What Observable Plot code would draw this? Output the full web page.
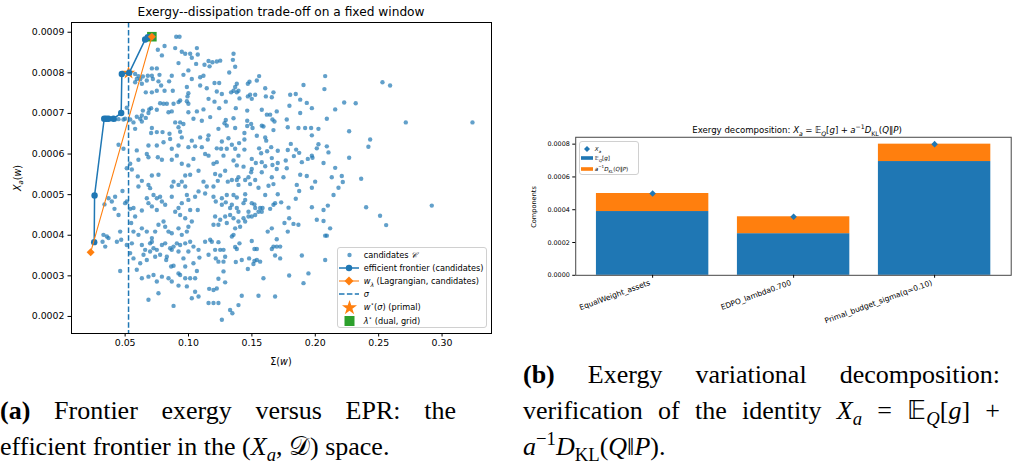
<!DOCTYPE html>
<html><head><meta charset="utf-8">
<script src="https://cdn.jsdelivr.net/npm/d3@7"></script>
<script src="https://cdn.jsdelivr.net/npm/@observablehq/plot@0.6"></script>
<style>
html,body{margin:0;padding:0;background:#fff}
body{width:1013px;height:472px;overflow:hidden;position:relative;font-family:"DejaVu Sans",sans-serif;color:#000}
.abs{position:absolute}
.c{transform:translate(-50%,-50%);white-space:nowrap}
.mi{font-style:italic}
sub,sup{font-size:72%;line-height:0}
.sp{display:inline-block;width:0.28em}
.leg{position:absolute;background:rgba(255,255,255,0.85);border:1px solid #d0d0d0;border-radius:3px;box-sizing:border-box}
.row{position:absolute;left:0;white-space:nowrap}
.row > svg{position:absolute;left:0;top:0}
.row > span.t{position:absolute;white-space:nowrap}
.cap{position:absolute;font-family:"Liberation Serif","Times New Roman",serif;font-size:26px;line-height:36px;height:36px;white-space:nowrap}
.just{text-align:justify;text-align-last:justify;white-space:normal}
.cap .mi{font-style:italic}
</style></head>
<body>
<div id="left" class="abs" style="left:0;top:0"></div>
<div id="right" class="abs" style="left:520px;top:100px"></div>
<script>
// ---------- data: left panel (Σ(w), X_a(w)) ----------
const candidates = [
[0.0811,8.66e-4],[0.0758,8.57e-4],[0.0903,8.89e-4],[0.0929,8.89e-4],[0.0895,8.61e-4],[0.0947,8.52e-4],[0.0974,8.47e-4],[0.1013,8.47e-4],[0.1066,8.61e-4],[0.1073,8.45e-4],[0.1026,8.37e-4],[0.0921,8.24e-4],[0.1060,8.22e-4],[0.1126,8.20e-4],[0.1158,8.29e-4],[0.1166,8.16e-4],[0.0790,8.43e-4],[0.0711,8.11e-4],[0.0750,8.11e-4],[0.0771,7.95e-4],[0.0711,7.93e-4],[0.0679,7.93e-4],[0.0640,7.91e-4],[0.0605,7.92e-4],[0.0579,7.77e-4],[0.0592,7.85e-4],[0.0632,7.73e-4],[0.0671,7.81e-4],[0.0719,7.85e-4],[0.0763,7.79e-4],[0.0784,7.69e-4],[0.0847,7.79e-4],[0.0868,7.93e-4],[0.0960,7.95e-4],[0.0999,8.06e-4],[0.1092,7.89e-4],[0.1118,7.93e-4],[0.1026,7.85e-4],[0.0987,7.65e-4],[0.1092,7.69e-4],[0.1144,7.62e-4],[0.0750,7.56e-4],[0.0811,7.56e-4],[0.0876,7.56e-4],[0.0711,7.52e-4],[0.0663,7.52e-4],[0.0999,7.50e-4],[0.0992,7.42e-4],[0.0934,7.32e-4],[0.0987,7.30e-4],[0.0999,7.24e-4],[0.1158,7.36e-4],[0.0921,7.28e-4],[0.0882,7.24e-4],[0.0842,7.03e-4],[0.0803,7.24e-4],[0.0776,7.25e-4],[0.0829,7.24e-4],[0.0750,7.09e-4],[0.0705,7.13e-4],[0.0690,7.10e-4],[0.0684,7.01e-4],[0.0640,7.07e-4],[0.0632,6.95e-4],[0.0663,6.89e-4],[0.0619,6.87e-4],[0.0592,6.92e-4],[0.0632,6.80e-4],[0.0566,6.78e-4],[0.0513,7.14e-4],[0.0500,6.87e-4],[0.0540,6.85e-4],[0.0868,7.05e-4],[0.1118,7.10e-4],[0.1066,7.05e-4],[0.0999,7.03e-4],[0.0579,6.62e-4],[0.0711,6.64e-4],[0.0705,6.52e-4],[0.0750,6.54e-4],[0.0795,6.54e-4],[0.0850,6.50e-4],[0.0895,6.78e-4],[0.0934,6.78e-4],[0.0960,6.74e-4],[0.0921,6.66e-4],[0.0934,6.55e-4],[0.0947,6.41e-4],[0.1039,6.87e-4],[0.1105,6.82e-4],[0.1171,6.91e-4],[0.1026,6.33e-4],[0.1092,6.41e-4],[0.1158,6.46e-4],[0.1152,6.36e-4],[0.0855,6.37e-4],[0.0750,6.21e-4],[0.0803,6.29e-4],[0.0868,6.13e-4],[0.0921,6.21e-4],[0.0999,6.17e-4],[0.1052,6.19e-4],[0.1105,6.17e-4],[0.0684,6.21e-4],[0.0592,6.09e-4],[0.0671,6.00e-4],[0.0487,6.13e-4],[0.0448,6.23e-4],[0.0540,5.76e-4],[0.0605,5.86e-4],[0.0684,5.92e-4],[0.0758,5.92e-4],[0.0790,5.86e-4],[0.0868,5.86e-4],[0.0908,5.96e-4],[0.0947,5.76e-4],[0.0999,5.72e-4],[0.1039,5.88e-4],[0.1131,6.00e-4],[0.1158,5.96e-4],[0.1079,5.59e-4],[0.1013,5.49e-4],[0.0974,5.47e-4],[0.0763,5.49e-4],[0.0711,5.47e-4],[0.0600,5.45e-4],[0.0553,5.62e-4],[0.0513,5.65e-4],[0.0421,6.85e-4],[0.0448,6.86e-4],[0.0487,6.85e-4],[0.0579,7.97e-4],[0.0619,7.84e-4],
[0.1355,8.47e-4],[0.1350,8.32e-4],[0.1368,8.15e-4],[0.1321,8.01e-4],[0.1250,8.30e-4],[0.1223,8.28e-4],[0.1189,8.26e-4],[0.1557,7.92e-4],[0.1539,7.81e-4],[0.1481,7.78e-4],[0.1468,7.73e-4],[0.1381,7.73e-4],[0.1368,7.65e-4],[0.1394,7.56e-4],[0.1355,7.56e-4],[0.1336,7.52e-4],[0.1381,7.52e-4],[0.1402,7.37e-4],[0.1242,7.75e-4],[0.1205,7.75e-4],[0.1223,7.54e-4],[0.1263,7.48e-4],[0.1486,7.46e-4],[0.1468,7.42e-4],[0.1499,7.36e-4],[0.1526,7.46e-4],[0.1605,7.62e-4],[0.1610,7.42e-4],[0.1670,7.52e-4],[0.1657,7.40e-4],[0.1802,7.46e-4],[0.1846,7.48e-4],[0.1881,7.34e-4],[0.1907,7.70e-4],[0.1933,7.26e-4],[0.1973,7.13e-4],[0.2078,7.92e-4],[0.2072,7.60e-4],[0.2228,7.27e-4],[0.2157,7.10e-4],[0.2091,6.87e-4],[0.1205,7.29e-4],[0.1294,7.29e-4],[0.1242,7.13e-4],[0.1373,7.13e-4],[0.1463,7.07e-4],[0.1578,7.09e-4],[0.1618,6.97e-4],[0.1644,6.97e-4],[0.1696,7.05e-4],[0.1662,6.85e-4],[0.1678,6.80e-4],[0.1670,6.59e-4],[0.1578,6.70e-4],[0.1591,6.68e-4],[0.1494,6.74e-4],[0.1505,6.64e-4],[0.1463,6.82e-4],[0.1463,6.69e-4],[0.1355,6.88e-4],[0.1294,6.84e-4],[0.1284,6.76e-4],[0.1302,6.70e-4],[0.1368,6.64e-4],[0.1236,6.62e-4],[0.1796,7.19e-4],[0.1881,7.01e-4],[0.1775,6.85e-4],[0.1783,6.66e-4],[0.1867,6.64e-4],[0.1920,6.64e-4],[0.1967,6.64e-4],[0.1973,6.46e-4],[0.2025,6.62e-4],[0.2267,6.56e-4],[0.1539,6.45e-4],[0.1605,6.41e-4],[0.1613,6.33e-4],[0.1441,6.52e-4],[0.1441,6.36e-4],[0.1399,6.27e-4],[0.1315,6.39e-4],[0.1263,6.31e-4],[0.1257,6.13e-4],[0.1302,6.13e-4],[0.1223,6.14e-4],[0.1342,6.23e-4],[0.1368,6.13e-4],[0.1441,6.11e-4],[0.1557,6.14e-4],[0.1652,6.17e-4],[0.1620,6.07e-4],[0.1573,6.02e-4],[0.1704,6.08e-4],[0.1783,6.10e-4],[0.1807,6.25e-4],[0.1849,6.11e-4],[0.1873,6.03e-4],[0.1831,5.95e-4],[0.1767,5.84e-4],[0.1657,5.90e-4],[0.1578,5.80e-4],[0.1499,5.88e-4],[0.1531,5.78e-4],[0.1394,5.96e-4],[0.1355,5.84e-4],[0.1381,5.72e-4],[0.1434,5.69e-4],[0.1276,5.96e-4],[0.1223,5.80e-4],[0.1197,5.76e-4],[0.1289,5.59e-4],[0.1605,5.70e-4],[0.1499,5.63e-4],[0.1494,5.55e-4],[0.1662,5.73e-4],[0.1704,5.78e-4],[0.1696,5.63e-4],[0.1775,5.65e-4],[0.1894,5.80e-4],[0.1941,5.88e-4],[0.1973,5.96e-4],[0.1978,5.91e-4],[0.2025,6.24e-4],[0.2012,6.14e-4],[0.2091,6.19e-4],[0.2104,6.04e-4],[0.2065,5.78e-4],[0.2157,5.66e-4],[0.2267,5.91e-4],[0.1210,5.51e-4],[0.1250,5.47e-4],[0.1394,5.43e-4],[0.1473,5.43e-4],[0.1578,5.55e-4],[0.1657,5.43e-4],[0.1749,5.43e-4],[0.1881,5.49e-4],[0.1933,5.46e-4],[0.2130,5.43e-4],[0.2209,5.46e-4],
[0.0337,4.76e-4],[0.0369,4.91e-4],[0.0395,4.83e-4],[0.0421,4.95e-4],[0.0479,5.09e-4],[0.0416,4.65e-4],[0.0448,4.50e-4],[0.0500,4.79e-4],[0.0513,4.83e-4],[0.0540,4.65e-4],[0.0566,4.67e-4],[0.0632,4.61e-4],[0.0605,5.20e-4],[0.0632,5.34e-4],[0.0684,5.24e-4],[0.0697,5.16e-4],[0.0724,4.99e-4],[0.0671,4.91e-4],[0.0684,4.79e-4],[0.0711,4.71e-4],[0.0750,4.62e-4],[0.0750,4.91e-4],[0.0776,4.95e-4],[0.0790,4.83e-4],[0.0816,4.75e-4],[0.0868,4.95e-4],[0.0868,5.20e-4],[0.0882,5.32e-4],[0.0921,5.24e-4],[0.0947,5.32e-4],[0.0974,5.20e-4],[0.0987,4.99e-4],[0.0999,4.87e-4],[0.0947,4.79e-4],[0.0921,4.67e-4],[0.0895,4.58e-4],[0.0934,4.50e-4],[0.0974,4.42e-4],[0.1013,4.62e-4],[0.1052,4.95e-4],[0.1079,5.08e-4],[0.1131,5.03e-4],[0.1144,5.20e-4],[0.1118,5.32e-4],[0.1073,4.62e-4],[0.1026,4.34e-4],[0.0999,4.21e-4],[0.0987,4.09e-4],[0.0947,4.01e-4],[0.0921,4.17e-4],[0.0868,4.05e-4],[0.0842,4.09e-4],[0.0816,4.21e-4],[0.0803,4.34e-4],[0.0763,4.26e-4],[0.0737,4.09e-4],[0.0711,3.93e-4],[0.0671,4.09e-4],[0.0632,4.17e-4],[0.0605,4.01e-4],[0.0566,4.09e-4],[0.0548,4.30e-4],[0.0579,4.46e-4],[0.0461,4.09e-4],[0.0469,3.89e-4],[0.0435,3.84e-4],[0.0369,3.93e-4],[0.0343,3.72e-4],[0.0329,4.01e-4],[0.0356,3.97e-4],[0.0322,3.84e-4],[0.0513,3.76e-4],[0.0553,3.80e-4],[0.0566,3.43e-4],[0.0540,3.56e-4],[0.0632,3.76e-4],[0.0658,3.64e-4],[0.0697,3.80e-4],[0.0711,3.84e-4],[0.0724,3.68e-4],[0.0750,3.64e-4],[0.0790,3.76e-4],[0.0816,3.80e-4],[0.0855,3.68e-4],[0.0882,3.72e-4],[0.0908,3.80e-4],[0.0934,3.76e-4],[0.0974,3.80e-4],[0.1013,3.84e-4],[0.1039,3.72e-4],[0.1079,3.64e-4],[0.1131,3.84e-4],[0.1158,3.52e-4],[0.1171,3.89e-4],[0.0999,3.60e-4],[0.0960,3.43e-4],[0.0921,3.60e-4],[0.0868,3.64e-4],[0.0829,3.47e-4],[0.0824,3.39e-4],[0.0776,3.52e-4],[0.0737,3.47e-4],[0.0697,3.60e-4],[0.0645,3.52e-4],[0.0671,3.39e-4],[0.0619,3.31e-4],[0.0592,3.15e-4],[0.0632,2.94e-4],[0.0684,2.98e-4],[0.0724,3.02e-4],[0.0750,2.86e-4],[0.0790,2.98e-4],[0.0842,2.94e-4],[0.0868,2.86e-4],[0.0863,3.23e-4],[0.0882,3.25e-4],[0.0921,3.06e-4],[0.0934,3.02e-4],[0.0974,3.23e-4],[0.0974,2.94e-4],[0.1013,2.94e-4],[0.1052,2.94e-4],[0.1066,3.12e-4],[0.1039,3.31e-4],[0.1086,3.45e-4],[0.1163,2.68e-4],[0.1158,2.33e-4],[0.1079,2.49e-4],[0.1026,2.45e-4],[0.1052,2.61e-4],[0.0987,2.74e-4],[0.0921,2.76e-4],[0.0763,2.57e-4],[0.0684,2.41e-4],[0.0882,2.26e-4],[0.0461,3.12e-4],
[0.1231,5.34e-4],[0.1310,5.32e-4],[0.1342,5.36e-4],[0.1381,5.36e-4],[0.1394,5.24e-4],[0.1447,5.36e-4],[0.1486,5.26e-4],[0.1526,5.36e-4],[0.1552,5.17e-4],[0.1631,5.22e-4],[0.1670,5.26e-4],[0.1704,5.01e-4],[0.1605,4.99e-4],[0.1447,5.01e-4],[0.1381,4.93e-4],[0.1355,4.99e-4],[0.1302,4.99e-4],[0.1263,4.91e-4],[0.1197,5.20e-4],[0.1197,4.95e-4],[0.1215,4.83e-4],[0.1263,4.75e-4],[0.1294,4.81e-4],[0.1328,4.67e-4],[0.1342,4.75e-4],[0.1381,4.67e-4],[0.1394,4.58e-4],[0.1434,4.79e-4],[0.1447,4.87e-4],[0.1499,4.79e-4],[0.1520,4.76e-4],[0.1526,4.67e-4],[0.1565,4.67e-4],[0.1584,4.67e-4],[0.1552,4.58e-4],[0.1499,4.46e-4],[0.1473,4.58e-4],[0.1434,4.42e-4],[0.1394,4.34e-4],[0.1355,4.42e-4],[0.1328,4.50e-4],[0.1289,4.46e-4],[0.1250,4.38e-4],[0.1210,4.46e-4],[0.1197,4.26e-4],[0.1236,4.26e-4],[0.1302,4.30e-4],[0.1368,4.17e-4],[0.1407,4.21e-4],[0.1447,4.34e-4],[0.1473,4.46e-4],[0.1526,4.50e-4],[0.1578,4.58e-4],[0.1644,4.65e-4],[0.1670,4.75e-4],[0.1683,4.79e-4],[0.1731,4.81e-4],[0.1789,4.68e-4],[0.1846,4.90e-4],[0.1873,5.09e-4],[0.1854,5.24e-4],[0.1973,5.17e-4],[0.1999,5.32e-4],[0.2144,4.99e-4],[0.2183,5.17e-4],[0.2217,5.31e-4],[0.1973,4.69e-4],[0.2065,4.62e-4],[0.2099,4.73e-4],[0.2012,4.38e-4],[0.2065,4.35e-4],[0.2117,4.17e-4],[0.2091,3.99e-4],[0.2078,3.99e-4],[0.1867,4.26e-4],[0.1828,4.28e-4],[0.1794,4.42e-4],[0.1757,4.30e-4],[0.1783,4.09e-4],[0.1657,4.17e-4],[0.1625,4.09e-4],[0.1696,3.90e-4],[0.1657,3.66e-4],[0.1670,3.72e-4],[0.1696,3.72e-4],[0.1723,3.72e-4],[0.1723,3.43e-4],[0.1683,3.50e-4],[0.1499,3.86e-4],[0.1520,3.66e-4],[0.1539,3.66e-4],[0.1402,3.80e-4],[0.1368,3.71e-4],[0.1381,3.66e-4],[0.1342,3.97e-4],[0.1355,4.01e-4],[0.1236,3.83e-4],[0.1250,3.64e-4],[0.1276,3.64e-4],[0.1289,3.47e-4],[0.1215,3.43e-4],[0.1236,3.35e-4],[0.1276,3.35e-4],[0.1210,3.64e-4],[0.1184,3.84e-4],[0.1373,3.34e-4],[0.1420,3.39e-4],[0.1478,3.43e-4],[0.1520,3.37e-4],[0.1512,3.29e-4],[0.1539,3.39e-4],[0.1565,3.35e-4],[0.1468,3.17e-4],[0.1276,3.11e-4],[0.1289,2.84e-4],[0.1236,2.93e-4],[0.1223,2.69e-4],[0.1197,2.65e-4],[0.1591,2.94e-4],[0.1794,3.01e-4],[0.1946,3.06e-4],[0.1907,2.82e-4],[0.1894,3.50e-4],[0.2078,3.39e-4],[0.1420,2.51e-4],[0.1552,2.51e-4],[0.1683,2.49e-4],[0.1197,2.33e-4],[0.1236,2.33e-4],[0.1394,2.28e-4],[0.1328,2.16e-4],[0.1346,2.08e-4],[0.1263,1.92e-4],
[0.2530,7.77e-4],[0.2590,7.69e-4],[0.2319,7.25e-4],[0.2714,6.78e-4],[0.3240,6.78e-4],[0.2433,6.36e-4],[0.2419,6.18e-4],[0.2362,5.39e-4],[0.2401,4.69e-4],[0.2511,4.48e-4],[0.2559,4.25e-4],[0.2919,4.73e-4]
];
const frontierSigma = [0.0256, 0.0259, 0.0335, 0.0351, 0.0369, 0.0408, 0.0469, 0.0474, 0.0532, 0.0658, 0.0679, 0.0711];
const frontierXa    = [3.83e-4, 4.98e-4, 6.87e-4, 6.87e-4, 6.87e-4, 6.87e-4, 7.01e-4, 7.97e-4, 8.00e-4, 8.82e-4, 8.88e-4, 8.89e-4];
const lagSigma = [0.0228, 0.0711];
const lagXa    = [3.58e-4, 8.89e-4];
const sigmaBudget = 0.0527;
const primal = {sigma: 0.0527, xa: 8.00e-4};
const dual   = {sigma: 0.0711, xa: 8.89e-4};
const leftXTicks = [0.05, 0.10, 0.15, 0.20, 0.25, 0.30];
const leftYTicks = [0.0002, 0.0003, 0.0004, 0.0005, 0.0006, 0.0007, 0.0008, 0.0009];

// ---------- data: right panel ----------
const strategies = ["EqualWeight_assets", "EDPO_lambda0.700", "Primal_budget_sigma(q=0.10)"];
const expectedG  = [3.89e-4, 2.54e-4, 6.94e-4];
const klTerm     = [1.10e-4, 1.03e-4, 1.06e-4];
const exergyXa   = [4.99e-4, 3.57e-4, 8.00e-4];
const rightYTicks = [0, 0.0002, 0.0004, 0.0006, 0.0008];

const BLUE = "#1f77b4", ORANGE = "#ff7f0e", GREEN = "#2ca02c";

// ---------- left plot ----------
const frontier = frontierSigma.map((s, i) => ({s, xa: frontierXa[i]}));
const lag = lagSigma.map((s, i) => ({s, xa: lagXa[i]}));
const left = Plot.plot({
  width: 500, height: 372,
  marginLeft: 71, marginRight: 9, marginTop: 22, marginBottom: 39,
  style: {fontFamily: "DejaVu Sans", fontSize: "9.4px", color: "#000", background: "transparent"},
  x: {domain: [0.0077, 0.339]},
  y: {domain: [0.000158, 0.000924]},
  marks: [
    Plot.dot(candidates, {x: d => d[0], y: d => d[1], r: 2.2, fill: BLUE, fillOpacity: 0.7}),
    Plot.dot([primal], {x: "sigma", y: "xa", symbol: "star", r: 4.2, fill: ORANGE}),
    Plot.dot([dual], {x: "sigma", y: "xa", symbol: "square", r: 5.4, fill: GREEN}),
    Plot.line(frontier, {x: "s", y: "xa", stroke: BLUE, strokeWidth: 1.5}),
    Plot.dot(frontier, {x: "s", y: "xa", r: 3.2, fill: BLUE}),
    Plot.line(lag, {x: "s", y: "xa", stroke: ORANGE, strokeWidth: 1.1}),
    Plot.dot(lag, {x: "s", y: "xa", symbol: "diamond2", r: 3.6, fill: ORANGE}),
    Plot.ruleX([sigmaBudget], {stroke: BLUE, strokeWidth: 1.5, strokeDasharray: "5.5,2.4"}),
    Plot.frame({stroke: "#000", strokeWidth: 1}),
    Plot.axisX({ticks: leftXTicks, tickFormat: d3.format(".2f"), tickSize: 3.5, tickPadding: 2.5, label: null}),
    Plot.axisY({ticks: leftYTicks, tickFormat: d3.format(".4f"), tickSize: 3.5, tickPadding: 3.5, label: null})
  ]
});
document.getElementById("left").appendChild(left);

// ---------- right plot ----------
const stacked = [];
strategies.forEach((s, i) => {
  stacked.push({strategy: s, part: "eg", value: expectedG[i]});
  stacked.push({strategy: s, part: "kl", value: klTerm[i]});
});
const xaRows = strategies.map((s, i) => ({strategy: s, xa: exergyXa[i]}));
const right = Plot.plot({
  width: 500, height: 240,
  marginLeft: 56, marginRight: 2.3, marginTop: 37.3, marginBottom: 62.7,
  style: {fontFamily: "DejaVu Sans", fontSize: "6.5px", color: "#000", background: "transparent"},
  x: {domain: strategies, paddingInner: 0.2, paddingOuter: 0.141},
  y: {domain: [0, 0.000842]},
  color: {domain: ["eg", "kl"], range: [BLUE, ORANGE]},
  marks: [
    Plot.barY(stacked, {x: "strategy", y: "value", fill: "part", inset: 0}),
    Plot.dot(xaRows, {x: "strategy", y: "xa", symbol: "diamond2", r: 3, fill: BLUE}),
    Plot.frame({stroke: "#444", strokeWidth: 1}),
    Plot.axisY({ticks: rightYTicks, tickFormat: d3.format(".4f"), tickSize: 3, tickPadding: 3, label: null}),
    Plot.axisX({tickSize: 3, tickFormat: () => "", label: null}),
    Plot.text(strategies, {x: d => d, frameAnchor: "bottom", dy: 9.5, dx: -2, rotate: -20, textAnchor: "end", lineAnchor: "bottom", fontSize: 7.6})
  ]
});
document.getElementById("right").appendChild(right);

// ---------- html text ----------
function add(html, style, cls) {
  const d = document.createElement("div");
  d.className = "abs " + (cls || "");
  d.innerHTML = html;
  Object.assign(d.style, style);
  document.body.appendChild(d);
  return d;
}
// left titles/labels
add("Exergy--dissipation trade-off on a fixed window", {left: "281px", top: "12px", fontSize: "12.2px"}, "c");
add('<span class="mi">X</span><sub class="mi">a</sub>(<span class="mi">w</span>)', {left: "17px", top: "178px", fontSize: "9.6px", transform: "translate(-50%,-50%) rotate(-90deg)"}, "c");
add('Σ(<span class="mi">w</span>)', {left: "281px", top: "361px", fontSize: "9.6px"}, "c");

// left legend
const leg = add("", {left: "336.7px", top: "246.7px", width: "150px", height: "81.6px"}, "");
leg.className = "leg";
const starPath = d3.symbol(d3.symbolStar, 70)();
const legRows = [
  {y: 7.6, svg: `<circle cx="11.5" cy="6" r="2.2" fill="${BLUE}" fill-opacity="0.7"/>`, html: 'candidates <span class="mi">𝒞</span>'},
  {y: 20.3, svg: `<line x1="1" y1="6" x2="21" y2="6" stroke="${BLUE}" stroke-width="1.5"/><circle cx="11" cy="6" r="3.2" fill="${BLUE}"/>`, html: 'efficient frontier (candidates)'},
  {y: 33.3, svg: `<line x1="1" y1="6" x2="21" y2="6" stroke="${ORANGE}" stroke-width="1.1"/><path d="M11,1.5L15.5,6L11,10.5L6.5,6Z" fill="${ORANGE}"/>`, html: '<span class="mi">w</span><sub class="mi">λ</sub> (Lagrangian, candidates)'},
  {y: 46.6, svg: `<line x1="1" y1="6" x2="21" y2="6" stroke="${BLUE}" stroke-width="1.5" stroke-dasharray="5.5,2.4"/>`, html: '<span class="mi">σ</span>'},
  {y: 59.6, svg: `<path transform="translate(11.5,6.8)" d="${starPath}" fill="${ORANGE}"/>`, html: '<span class="mi">w</span><sup>⋆</sup>(<span class="mi">σ</span>) (primal)'},
  {y: 73.3, svg: `<rect x="6.5" y="1" width="10" height="10" fill="${GREEN}"/>`, html: '<span class="mi">λ</span><sup>⋆</sup> (dual, grid)'}
];
legRows.forEach(r => {
  const row = document.createElement("div");
  row.className = "row";
  row.style.top = (r.y - 6) + "px";
  row.style.height = "12px";
  row.innerHTML = `<svg width="24" height="13" style="overflow:visible">${r.svg}</svg><span class="t" style="left:26px;top:0;line-height:12px;font-size:8.2px">${r.html}</span>`;
  leg.appendChild(row);
});

// right titles/labels
add('Exergy decomposition: <span class="mi">X</span><sub class="mi">a</sub><span class="sp"></span>=<span class="sp"></span>𝔼<sub class="mi">Q</sub>[<span class="mi">g</span>]<span class="sp"></span>+<span class="sp"></span><span class="mi">a</span><sup>−1</sup><span class="mi">D</span><sub>KL</sub>(<span class="mi">Q</span>‖<span class="mi">P</span>)', {left: "797px", top: "129.5px", fontSize: "8.6px"}, "c");
add('Components', {left: "534px", top: "207px", fontSize: "6.6px", transform: "translate(-50%,-50%) rotate(-90deg)"}, "c");

// right legend
const leg2 = add("", {left: "579.3px", top: "140.7px", width: "59.7px", height: "34.3px"}, "");
leg2.className = "leg";
const leg2Rows = [
  {y: 7.3, svg: `<path d="M7,3L10,6L7,9L4,6Z" fill="${BLUE}"/>`, html: '<span class="mi">X</span><sub class="mi">a</sub>'},
  {y: 16.8, svg: `<rect x="1" y="4.2" width="12" height="3.6" fill="${BLUE}"/>`, html: '𝔼<sub class="mi">Q</sub>[<span class="mi">g</span>]'},
  {y: 27.6, svg: `<rect x="1" y="4.2" width="12" height="3.6" fill="${ORANGE}"/>`, html: '<span class="mi">a</span><sup>−1</sup><span class="mi">D</span><sub>KL</sub>(<span class="mi">Q</span>‖<span class="mi">P</span>)'}
];
leg2Rows.forEach(r => {
  const row = document.createElement("div");
  row.className = "row";
  row.style.top = (r.y - 6) + "px";
  row.style.height = "12px";
  row.innerHTML = `<svg width="14" height="12" style="overflow:visible">${r.svg}</svg><span class="t" style="left:14.5px;top:0;line-height:12px;font-size:5.6px">${r.html}</span>`;
  leg2.appendChild(row);
});

// captions
add('<b>(a)</b> Frontier exergy versus EPR: the', {left: "0px", top: "393px", width: "456px"}, "cap just");
add('efficient frontier in the (<span class="mi">X</span><sub class="mi">a</sub>, 𝒟) space.', {left: "0px", top: "429px"}, "cap");
add('<b>(b)</b> Exergy variational decomposition:', {left: "523px", top: "357px", width: "477px"}, "cap just");
add('verification of the identity <span class="mi">X</span><sub class="mi">a</sub> = 𝔼<sub class="mi">Q</sub>[<span class="mi">g</span>] +', {left: "523px", top: "393px", width: "477px"}, "cap just");
add('<span class="mi">a</span><sup>−1</sup><span class="mi">D</span><sub>KL</sub>(<span class="mi">Q</span>‖<span class="mi">P</span>).', {left: "523px", top: "429px"}, "cap");
</script>
</body></html>
